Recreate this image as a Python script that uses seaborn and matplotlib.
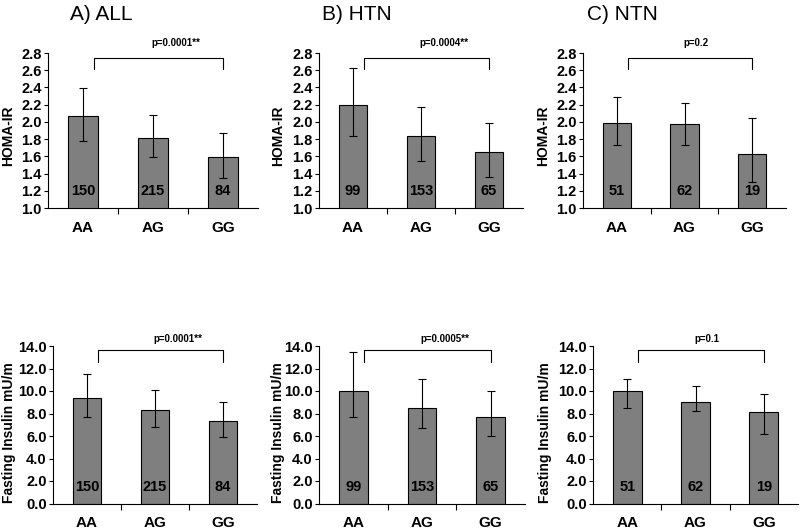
import matplotlib
matplotlib.use("Agg")
import matplotlib.pyplot as plt
import numpy as np
import seaborn as sns
from matplotlib.ticker import FormatStrFormatter

genotypes = ["AA", "AG", "GG"]
panel_titles = ["A) ALL", "B) HTN", "C) NTN"]
counts = [[150, 215, 84], [99, 153, 65], [51, 62, 19]]

# HOMA-IR: bar value with lower / upper end of the error bar
homa_mean = [[2.07, 1.81, 1.59], [2.20, 1.84, 1.65], [1.99, 1.97, 1.63]]
homa_low = [[1.78, 1.59, 1.35], [1.84, 1.55, 1.36], [1.73, 1.73, 1.30]]
homa_high = [[2.39, 2.08, 1.87], [2.63, 2.17, 1.99], [2.29, 2.22, 2.05]]
homa_p = ["p=0.0001**", "p=0.0004**", "p=0.2"]

# Fasting insulin
ins_mean = [[9.41, 8.31, 7.33], [10.0, 8.49, 7.69], [9.97, 9.05, 8.16]]
ins_low = [[7.66, 6.77, 5.88], [7.69, 6.68, 5.99], [8.52, 8.25, 6.20]]
ins_high = [[11.51, 10.12, 9.05], [13.5, 11.04, 10.0], [11.04, 10.45, 9.76]]
ins_p = ["p=0.0001**", "p=0.0005**", "p=0.1"]

W, H = 800, 530
BAR = "#7f7f7f"


def px_axes(left, top, right, bottom):
    return [left / W, 1 - bottom / H, (right - left) / W, (bottom - top) / H]


def draw_panel(ax, means, lows, highs, ns, ptext, ylim, yticks, yfmt,
               br_top, br_drop, p_y, n_y):
    sns.barplot(x=genotypes, y=means, color=BAR, saturation=1, width=0.42,
                edgecolor="black", linewidth=0.8, errorbar=None, ax=ax)
    means = np.array(means)
    yerr = [means - np.array(lows), np.array(highs) - means]
    ax.errorbar(range(3), means, yerr=yerr, fmt="none", ecolor="black",
                elinewidth=0.8, capsize=3, capthick=0.8)
    for i, n in enumerate(ns):
        ax.text(i, n_y, str(n), ha="center", va="center", fontsize=10.5,
                fontweight="bold", color="black")
    # significance bracket AA vs GG
    ax.plot([0.16, 0.16, 2, 2], [br_drop, br_top, br_top, br_drop],
            color="black", lw=0.8, clip_on=False)
    ax.text(0.98, p_y, ptext, ha="left", va="center", fontsize=7,
            fontweight="bold", color="black", clip_on=False)

    ax.set_xlim(-0.5, 2.5)
    ax.set_ylim(*ylim)
    ax.set_yticks(yticks)
    ax.yaxis.set_major_formatter(FormatStrFormatter(yfmt))
    ax.set_xticks([0.5, 1.5], minor=True)
    ax.tick_params(axis="x", which="major", length=0, pad=9, labelsize=11)
    ax.tick_params(axis="x", which="minor", length=4, width=0.8,
                   direction="out")
    ax.tick_params(axis="y", length=3, width=0.8, pad=1.5, labelsize=10.5)
    for lab in ax.get_xticklabels() + ax.get_yticklabels():
        lab.set_fontweight("bold")
    sns.despine(ax=ax)
    for s in ["left", "bottom"]:
        ax.spines[s].set_linewidth(0.8)
        ax.spines[s].set_color("black")
    ax.set_xlabel("")


def main():
    sns.set_theme(style="ticks")
    plt.rcParams["font.family"] = ["Liberation Sans", "DejaVu Sans"]
    plt.rcParams.update({"text.color": "black", "axes.labelcolor": "black",
                         "xtick.color": "black", "ytick.color": "black"})

    fig = plt.figure(figsize=(W / 100, H / 100), dpi=100)

    top_boxes = [(48, 53, 258, 208), (319, 53, 523, 208), (583, 53, 786, 208)]
    bot_boxes = [(53, 346, 257, 503.5), (319, 346, 525, 503.5),
                 (593, 346, 798, 503.5)]
    title_x = [70, 322, 587]
    top_label_x = [15, 285, 550]
    bot_label_x = [16, 285, 552]

    for k in range(3):
        ax = fig.add_axes(px_axes(*top_boxes[k]))
        draw_panel(ax, homa_mean[k], homa_low[k], homa_high[k], counts[k],
                   homa_p[k], (1.0, 2.8), np.arange(1.0, 2.81, 0.2), "%.1f",
                   2.745, 2.61, 2.92, 1.2)
        ax.set_ylabel("HOMA-IR", fontsize=10, fontweight="bold")
        ax.yaxis.set_label_coords(top_label_x[k] / W, 1 - 136 / H,
                                  transform=fig.transFigure)
        fig.text(title_x[k] / W, 1 - 20 / H, panel_titles[k], fontsize=15,
                 va="baseline", ha="left")

        ax2 = fig.add_axes(px_axes(*bot_boxes[k]))
        draw_panel(ax2, ins_mean[k], ins_low[k], ins_high[k], counts[k],
                   ins_p[k], (0, 14), np.arange(0, 14.1, 2), "%.1f",
                   13.62, 12.6, 14.6, 1.5)
        ax2.set_ylabel("Fasting Insulin mU/m", fontsize=10,
                       fontweight="bold")
        ax2.yaxis.set_label_coords(bot_label_x[k] / W, 1 - 433 / H,
                                   transform=fig.transFigure)

    fig.savefig("out.png", dpi=100)


if __name__ == "__main__":
    main()
